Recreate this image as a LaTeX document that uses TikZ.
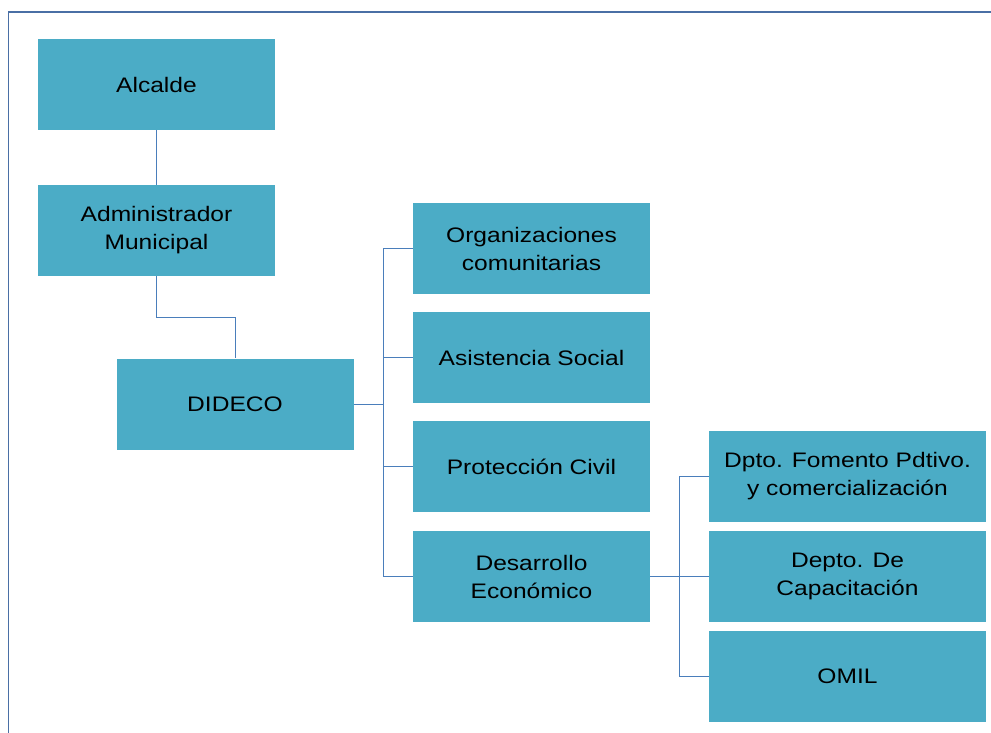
\documentclass[tikz,border=0pt]{standalone}
\usepackage{fontspec}
\setmainfont{Liberation Sans}[FakeStretch=1.17]
\definecolor{boxfill}{HTML}{4BACC6}
\definecolor{linkcol}{HTML}{4A7EBB}
\definecolor{framecol}{HTML}{4A6FA5}
\begin{document}
\begin{tikzpicture}[x=1pt,y=-1pt,
  unit/.style={fill=boxfill,draw=none,inner sep=0pt,align=center,
    minimum width=237pt,minimum height=91pt,
    font=\fontsize{21}{28}\selectfont},
  wideunit/.style={unit,minimum width=277pt},
  link/.style={draw=linkcol,line width=1pt}]
\useasboundingbox (0,0) rectangle (991,733);
% page frame
\draw[framecol,line width=1.5pt] (8.5,733) -- (8.5,12) -- (991,12);
% units
\node[unit] (alc) at (156.5,84.5) {Alcalde};
\node[unit] (adm) at (156.5,230.5) {Administrador\\Municipal};
\node[unit] (did) at (235,404) {DIDECO};
\node[unit] (org) at (531.5,248.5) {Organizaciones\\comunitarias};
\node[unit] (asi) at (531.5,357.5) {Asistencia Social};
\node[unit] (pro) at (531.5,466.5) {Protección Civil};
\node[unit] (des) at (531.5,576.5) {Desarrollo\\Económico};
\node[wideunit] (dpt) at (847.5,476) {Dpto. Fomento Pdtivo.\\y comercialización};
\node[wideunit] (cap) at (847.5,576.5) {Depto. De\\Capacitación};
\node[wideunit] (omi) at (847.5,676.5) {OMIL};
% links
\draw[link] (alc.south) -- (adm.north);
\draw[link] (adm.south) -- ++(0,41) -| (did.north);
\foreach \c in {org,asi,pro,des}
  \draw[link] (\c.west) -- ++(-29,0) |- (did.east);
\foreach \c in {dpt,cap,omi}
  \draw[link] (\c.west) -- ++(-29,0) |- (des.east);
\end{tikzpicture}
\end{document}
